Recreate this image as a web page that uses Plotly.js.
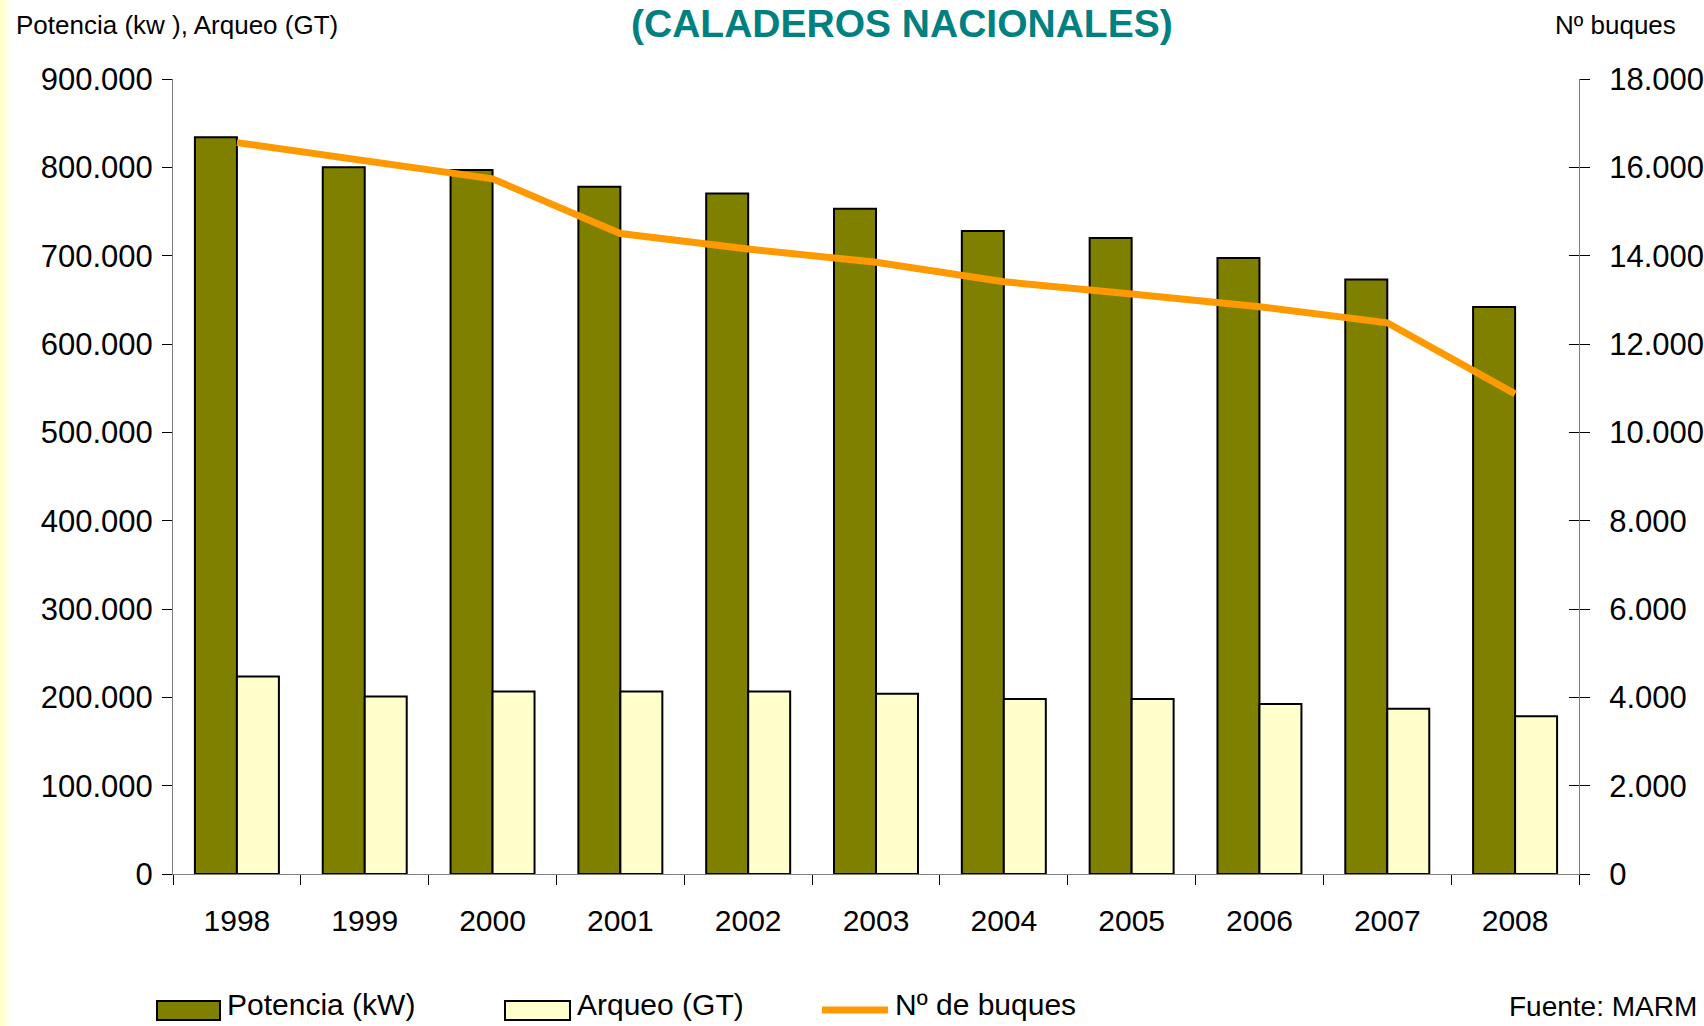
<!DOCTYPE html>
<html>
<head>
<meta charset="utf-8">
<script src="https://cdn.plot.ly/plotly-3.0.1.min.js"></script>
<style>
  html, body { margin: 0; padding: 0; background: #ffffff; }
  #strip { position: absolute; left: 0; top: 0; width: 12px; height: 1026px;
           background: linear-gradient(to right, rgba(255,255,190,0.9), rgba(255,255,255,0)); }
  #chart { position: absolute; left: 0; top: 0; width: 1704px; height: 1026px; }
</style>
</head>
<body>
<div id="strip"></div>
<div id="chart"></div>
<script>
const years = ["1998","1999","2000","2001","2002","2003","2004","2005","2006","2007","2008"];
const potencia = [834000, 800000, 797000, 778000, 770500, 753000, 728000, 720000, 697500, 673000, 642000];
const arqueo = [223500, 201000, 206500, 206500, 206500, 204000, 198000, 198000, 192500, 187000, 178500];
const buques = [16560, 16160, 15740, 14500, 14150, 13850, 13410, 13130, 12845, 12480, 10870];
const seriesNames = ["Potencia (kW)", "Arqueo (GT)", "Nº de buques"];
const seriesColors = ["#808000", "#FFFFCC", "#FF9900"];

const FONT = "Liberation Sans, Arial, sans-serif";

// plot-area geometry in pixels (used only to place the legend / labels in the margins)
const L = 173, T = 79, W = 1406, H = 795;
const px = (x) => (x - L) / W;
const py = (y) => (T + H - y) / H;

const traces = [
  {
    type: "bar", name: seriesNames[0], x: years, y: potencia,
    marker: { color: seriesColors[0], line: { color: "#000000", width: 2 } },
    hoverinfo: "skip"
  },
  {
    type: "bar", name: seriesNames[1], x: years, y: arqueo,
    marker: { color: seriesColors[1], line: { color: "#000000", width: 2 } },
    hoverinfo: "skip"
  },
  {
    type: "scatter", mode: "lines", name: seriesNames[2], x: years, y: buques,
    yaxis: "y2", line: { color: seriesColors[2], width: 7 },
    hoverinfo: "skip"
  },
  // invisible trace so the inside half of the right-axis ticks is drawn
  { type: "scatter", x: [years[0]], y: [null], yaxis: "y3", showlegend: false, hoverinfo: "skip" }
];

const legendShapes = [
  { type: "rect", xref: "paper", yref: "paper", x0: px(157), x1: px(220), y0: py(1020), y1: py(1001),
    fillcolor: seriesColors[0], line: { color: "#000000", width: 2 } },
  { type: "rect", xref: "paper", yref: "paper", x0: px(505), x1: px(570), y0: py(1020), y1: py(1001),
    fillcolor: seriesColors[1], line: { color: "#000000", width: 2 } },
  { type: "line", xref: "paper", yref: "paper", x0: px(822), x1: px(888), y0: py(1010), y1: py(1010),
    line: { color: seriesColors[2], width: 7 } }
];

const legendFont = { family: FONT, size: 30, color: "#000000" };

const layout = {
  width: 1704, height: 1026,
  margin: { l: L, r: 1704 - L - W, t: T, b: 1026 - T - H, pad: 0 },
  paper_bgcolor: "rgba(0,0,0,0)", plot_bgcolor: "rgba(0,0,0,0)",
  separators: ",.",
  font: { family: FONT, size: 30, color: "#000000" },
  barmode: "group", bargap: 0.343, bargroupgap: 0,
  showlegend: false,
  xaxis: {
    type: "category", range: [-0.5, 10.5], autorange: false,
    tickson: "boundaries", ticks: "outside", ticklen: 10,
    tickcolor: "#000000", tickwidth: 1,
    showline: true, linecolor: "#808080", linewidth: 1,
    showgrid: false, zeroline: false,
    ticklabelstandoff: 20,
    tickfont: { family: FONT, size: 30, color: "#000000" }
  },
  yaxis: {
    range: [0, 900000], autorange: false, dtick: 100000, tickformat: ",d",
    ticks: "outside", ticklen: 10, tickcolor: "#000000", tickwidth: 1,
    showline: true, linecolor: "#808080", linewidth: 1,
    showgrid: false, zeroline: false,
    ticklabelstandoff: 3,
    tickfont: { family: FONT, size: 31, color: "#000000" }
  },
  yaxis2: {
    overlaying: "y", side: "right", range: [0, 18000], autorange: false, dtick: 2000, tickformat: ",d",
    ticks: "outside", ticklen: 10, tickcolor: "#000000", tickwidth: 1,
    showline: true, linecolor: "#808080", linewidth: 1,
    showgrid: false, zeroline: false,
    ticklabelstandoff: 13,
    tickfont: { family: FONT, size: 31, color: "#000000" }
  },
  yaxis3: {
    overlaying: "y", side: "right", range: [0, 18000], autorange: false, dtick: 2000,
    ticks: "inside", ticklen: 10, tickcolor: "#000000", tickwidth: 1,
    showticklabels: false, showline: false, showgrid: false, zeroline: false
  },
  shapes: legendShapes,
  annotations: [
    { text: "<b>(CALADEROS NACIONALES)</b>", xref: "paper", yref: "paper",
      x: px(902), y: py(23), xanchor: "center", yanchor: "middle",
      showarrow: false, font: { family: FONT, size: 39, color: "#008080" } },
    { text: "Potencia (kw ), Arqueo (GT)", xref: "paper", yref: "paper",
      x: px(14), y: py(25), xanchor: "left", yanchor: "middle",
      showarrow: false, font: { family: FONT, size: 26, color: "#000000" } },
    { text: "Nº buques", xref: "paper", yref: "paper",
      x: px(1678), y: py(25), xanchor: "right", yanchor: "middle",
      showarrow: false, font: { family: FONT, size: 26, color: "#000000" } },
    { text: seriesNames[0], xref: "paper", yref: "paper",
      x: px(226), y: py(1004), xanchor: "left", yanchor: "middle", borderpad: 0,
      showarrow: false, font: legendFont },
    { text: seriesNames[1], xref: "paper", yref: "paper",
      x: px(576), y: py(1004), xanchor: "left", yanchor: "middle", borderpad: 0,
      showarrow: false, font: legendFont },
    { text: seriesNames[2], xref: "paper", yref: "paper",
      x: px(894), y: py(1004), xanchor: "left", yanchor: "middle", borderpad: 0,
      showarrow: false, font: legendFont },
    { text: "Fuente: MARM", xref: "paper", yref: "paper",
      x: px(1698), y: py(1006), xanchor: "right", yanchor: "middle", borderpad: 0,
      showarrow: false, font: { family: FONT, size: 28, color: "#000000" } }
  ]
};

Plotly.newPlot("chart", traces, layout, { staticPlot: true, displayModeBar: false });
</script>
</body>
</html>
